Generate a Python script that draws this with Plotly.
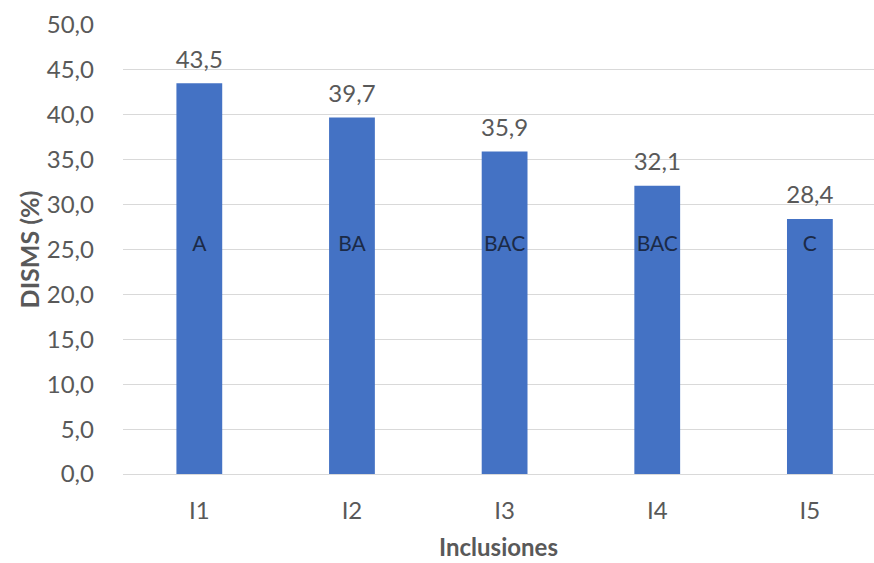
import plotly.graph_objects as go

categories = ["I1", "I2", "I3", "I4", "I5"]
values = [43.5, 39.7, 35.9, 32.1, 28.4]
value_labels = ["43,5", "39,7", "35,9", "32,1", "28,4"]
letters = ["A", "BA", "BAC", "BAC", "C"]
letter_y = [25.4, 25.4, 25.4, 25.4, 25.4]
y_ticks = [0, 5, 10, 15, 20, 25, 30, 35, 40, 45, 50]
y_tick_labels = ["0,0", "5,0", "10,0", "15,0", "20,0", "25,0", "30,0", "35,0", "40,0", "45,0", "50,0"]

font_family = "Lato, 'Open Sans', sans-serif"
grey = "#595959"

fig = go.Figure()
fig.add_trace(go.Bar(
    x=categories, y=values, width=0.3,
    marker=dict(color="#4472C4", line=dict(width=0)),
    hoverinfo="skip",
))
fig.add_trace(go.Scatter(
    x=categories, y=values, mode="markers+text", text=value_labels,
    textposition="top center", cliponaxis=False,
    marker=dict(size=14, opacity=0),
    textfont=dict(family=font_family, size=24, color=grey),
    hoverinfo="skip", showlegend=False,
))
fig.add_trace(go.Scatter(
    x=categories, y=letter_y, mode="text", text=letters,
    textfont=dict(family=font_family, size=21, color="#1B2A47"),
    hoverinfo="skip", showlegend=False,
))

fig.update_layout(
    width=874, height=563,
    margin=dict(l=123, r=0, t=25, b=89),
    paper_bgcolor="white", plot_bgcolor="white",
    showlegend=False,
    font=dict(family=font_family, color=grey),
    xaxis=dict(
        range=[-0.5, 4.42], showgrid=False, showline=False, zeroline=False,
        ticks="", tickfont=dict(size=24, color=grey), ticklabelstandoff=20,
        title=dict(text="<b>Inclusiones</b>", font=dict(size=24, color=grey), standoff=16),
    ),
    yaxis=dict(
        range=[0, 50], tickvals=y_ticks, ticktext=y_tick_labels,
        showgrid=True, gridcolor="#D9D9D9", gridwidth=1,
        zeroline=True, zerolinecolor="#D9D9D9", zerolinewidth=1,
        showline=False, ticks="", tickfont=dict(size=24, color=grey),
        ticklabelstandoff=28,
        title=dict(text="<b>DISMS (%)</b>", font=dict(size=25, color=grey), standoff=0),
    ),
)

fig.write_html("out.html")
